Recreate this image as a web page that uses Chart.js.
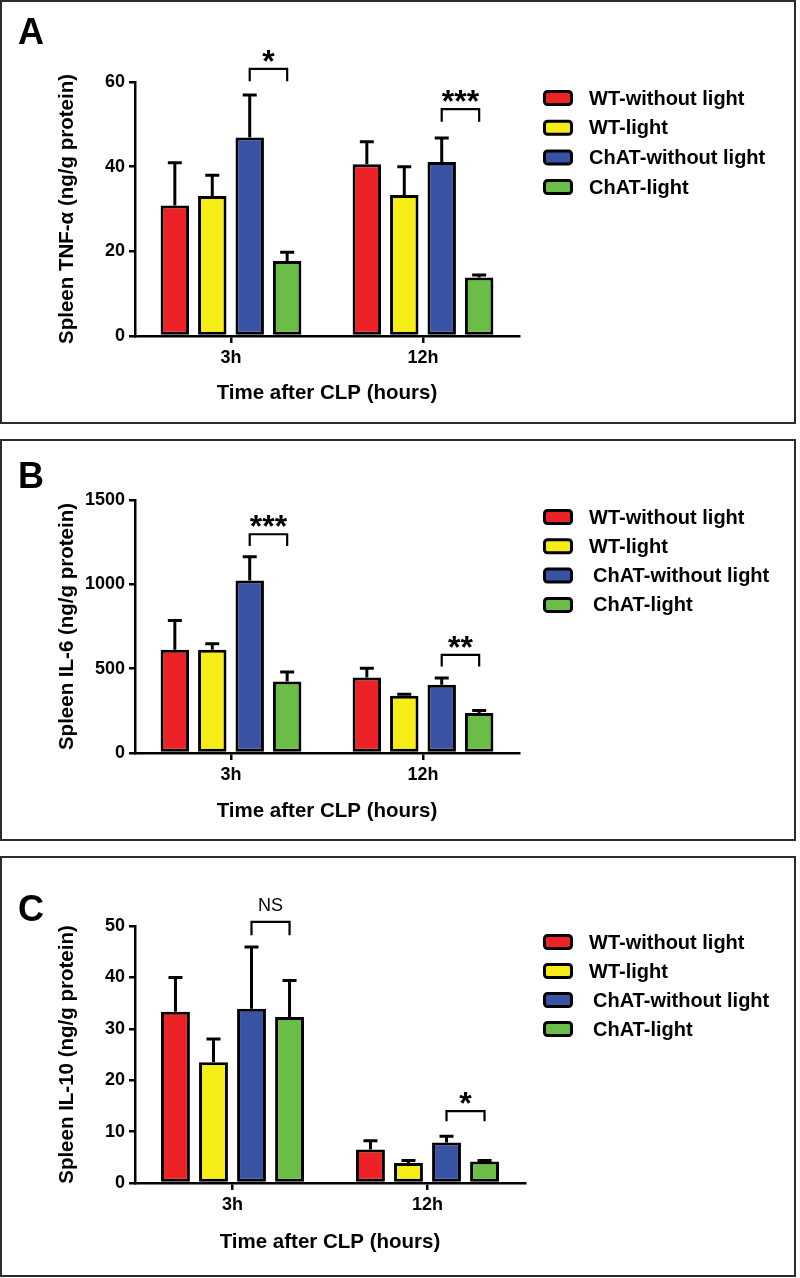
<!DOCTYPE html>
<html>
<head>
<meta charset="utf-8">
<title>Spleen cytokines after CLP</title>
<script src="https://cdn.jsdelivr.net/npm/chart.js@4.4.0/dist/chart.umd.min.js"></script>
<style>
  body { margin: 0; background: #fff; }
  .panel { position: absolute; left: 0; width: 796px; box-sizing: border-box; border: 2px solid #2b2b2b; background: #fff; }
  .panel canvas { position: absolute; left: 0; top: 0; }
</style>
</head>
<body>
<div class="panel" style="top:0;height:424px"><canvas id="chartA" width="792" height="420"></canvas></div>
<div class="panel" style="top:439px;height:402px"><canvas id="chartB" width="792" height="398"></canvas></div>
<div class="panel" style="top:856px;height:421px"><canvas id="chartC" width="792" height="417"></canvas></div>
<script>
/* Spleen TNF-a / IL-6 / IL-10 after CLP, grouped bars + SEM */

const categories = ['3h', '12h'];
const groups = ['WT-without light', 'WT-light', 'ChAT-without light', 'ChAT-light'];
const colors = ['#ec2227', '#f6ec16', '#3953a4', '#6abd45'];

// means per group: [3h, 12h]
const tnfMean = [[30.8, 40.6], [33.1, 33.3], [46.9, 41.1], [17.7, 13.8]];
const tnfSem = [[10.1, 5.3], [4.9, 6.7], [10.0, 5.7], [2.1, 0.6]];
const tnfTicks = { max: 60, step: 20 };
const tnfMarks = [
  { cat: 0, y: 63.1, drop: 2.9, text: '*' },
  { cat: 1, y: 53.6, drop: 3.0, text: '***' },
];

const il6Mean = [[612, 448], [612, 339], [1022, 404], [424, 237]];
const il6Sem = [[173, 55], [35, 10], [142, 40], [56, 15]];
const il6Ticks = { max: 1500, step: 500 };
const il6Marks = [
  { cat: 0, y: 1297, drop: 70, text: '***' },
  { cat: 1, y: 582, drop: 69, text: '**' },
];

const il10Mean = [[33.3, 6.5], [23.5, 3.9], [33.9, 7.9], [32.3, 4.2]];
const il10Sem = [[6.7, 1.7], [4.5, 0.5], [12.0, 1.2], [7.1, 0.2]];
const il10Ticks = { max: 50, step: 10 };
const il10Marks = [
  { cat: 0, y: 50.8, drop: 2.6, text: 'NS' },
  { cat: 1, y: 14.0, drop: 2.0, text: '*' },
];

const FONT = '"Liberation Sans", Arial, Helvetica, sans-serif';
Chart.defaults.font.family = FONT;
Chart.defaults.color = '#000';
Chart.defaults.animation = false;

const errorBars = {
  id: 'errorBars',
  afterDatasetsDraw(chart) {
    const ctx = chart.ctx;
    const y = chart.scales.y;
    ctx.save();
    ctx.strokeStyle = '#000';
    ctx.lineWidth = 3;
    chart.data.datasets.forEach((ds, i) => {
      chart.getDatasetMeta(i).data.forEach((bar, j) => {
        const top = y.getPixelForValue(ds.data[j] + ds.sem[j]);
        ctx.beginPath();
        ctx.moveTo(bar.x, bar.y);
        ctx.lineTo(bar.x, top);
        ctx.moveTo(bar.x - 7, top);
        ctx.lineTo(bar.x + 7, top);
        ctx.stroke();
      });
    });
    ctx.restore();
  },
};

// significance brackets between ChAT-without light and ChAT-light
const brackets = {
  id: 'brackets',
  afterDraw(chart, args, opts) {
    const ctx = chart.ctx;
    const y = chart.scales.y;
    const left = chart.getDatasetMeta(2).data;
    const right = chart.getDatasetMeta(3).data;
    ctx.save();
    ctx.strokeStyle = '#000';
    ctx.fillStyle = '#000';
    ctx.lineWidth = 2.2;
    ctx.textAlign = 'center';
    opts.marks.forEach(m => {
      const x1 = left[m.cat].x;
      const x2 = right[m.cat].x;
      const yb = y.getPixelForValue(m.y);
      const yl = y.getPixelForValue(m.y - m.drop);
      ctx.beginPath();
      ctx.moveTo(x1, yl);
      ctx.lineTo(x1, yb);
      ctx.lineTo(x2, yb);
      ctx.lineTo(x2, yl);
      ctx.stroke();
      if (m.text === 'NS') {
        ctx.font = '18px ' + FONT;
        ctx.fillText(m.text, (x1 + x2) / 2, yb - 11);
      } else {
        ctx.font = 'bold 32px ' + FONT;
        ctx.fillText(m.text, (x1 + x2) / 2, yb + 3);
      }
    });
    ctx.restore();
  },
};

// panel letter + legend boxes on the right
const decor = {
  id: 'decor',
  afterDraw(chart, args, opts) {
    const ctx = chart.ctx;
    ctx.save();
    ctx.fillStyle = '#000';
    ctx.font = 'bold 36px ' + FONT;
    ctx.textBaseline = 'alphabetic';
    ctx.fillText(opts.letter, 16, opts.letterY);
    ctx.font = 'bold 20px ' + FONT;
    ctx.textBaseline = 'middle';
    chart.data.datasets.forEach((ds, i) => {
      const cy = opts.legendY + i * opts.legendGap;
      const indent = i >= 2 ? opts.indent : 0;
      ctx.beginPath();
      ctx.roundRect(opts.legendX + 1.5, cy - 6.5, 27, 13, 3);
      ctx.fillStyle = ds.backgroundColor;
      ctx.fill();
      ctx.lineWidth = 3;
      ctx.strokeStyle = '#000';
      ctx.stroke();
      ctx.fillStyle = '#000';
      ctx.fillText(ds.label, opts.legendX + 46 + indent, cy + 1);
    });
    ctx.restore();
  },
};

function makePanel(id, p) {
  const datasets = groups.map((g, i) => ({
    label: g,
    data: p.mean[i],
    sem: p.sem[i],
    backgroundColor: colors[i],
    borderColor: '#000',
    borderWidth: 3,
    borderSkipped: false,
    categoryPercentage: 0.78,
    barPercentage: 0.76,
  }));
  return new Chart(document.getElementById(id), {
    type: 'bar',
    data: { labels: categories, datasets },
    options: {
      responsive: false,
      layout: { padding: { top: p.top, right: p.right, left: 0, bottom: 0 } },
      scales: {
        x: {
          grid: { display: true, drawOnChartArea: false, offset: false, tickLength: 7, lineWidth: 2.5, color: '#000' },
          border: { display: true, width: 2.5, color: '#000' },
          ticks: { font: { size: 18, weight: 'bold' }, padding: 4, color: '#000' },
          title: { display: true, text: 'Time after CLP (hours)', font: { size: 20.5, weight: 'bold' }, padding: { top: 0, bottom: p.titlePad }, color: '#000' },
          afterFit: s => { s.height = p.xHeight; },
        },
        y: {
          min: 0,
          max: p.ticks.max,
          grid: { display: true, drawOnChartArea: false, tickLength: 6, lineWidth: 2.5, color: '#000' },
          border: { display: true, width: 2.5, color: '#000' },
          ticks: { stepSize: p.ticks.step, font: { size: 18, weight: 'bold' }, padding: 4, color: '#000', callback: v => String(v) },
          title: { display: true, text: p.yTitle, font: { size: 20.5, weight: 'bold' }, padding: { top: 53, bottom: 0 }, color: '#000' },
          afterFit: s => { s.width = 133; },
        },
      },
      plugins: {
        legend: { display: false },
        tooltip: { enabled: false },
        brackets: { marks: p.marks },
        decor: { letter: p.letter, letterY: p.letterY, legendX: 541, legendY: p.legendY, legendGap: p.legendGap, indent: p.indent },
      },
    },
    plugins: [errorBars, brackets, decor],
  });
}

makePanel('chartA', {
  mean: tnfMean, sem: tnfSem, ticks: tnfTicks, marks: tnfMarks,
  yTitle: 'Spleen TNF-\u03b1 (ng/g protein)', letter: 'A', letterY: 42,
  top: 80, right: 275, xHeight: 86, titlePad: 16,
  legendY: 96, legendGap: 29.7, indent: 0,
});
makePanel('chartB', {
  mean: il6Mean, sem: il6Sem, ticks: il6Ticks, marks: il6Marks,
  yTitle: 'Spleen IL-6 (ng/g protein)', letter: 'B', letterY: 47,
  top: 59, right: 275, xHeight: 86, titlePad: 15,
  legendY: 76, legendGap: 29.3, indent: 4,
});
makePanel('chartC', {
  mean: il10Mean, sem: il10Sem, ticks: il10Ticks, marks: il10Marks,
  yTitle: 'Spleen IL-10 (ng/g protein)', letter: 'C', letterY: 63,
  top: 68, right: 269, xHeight: 92, titlePad: 20,
  legendY: 84, legendGap: 29, indent: 4,
});
</script>
</body>
</html>
